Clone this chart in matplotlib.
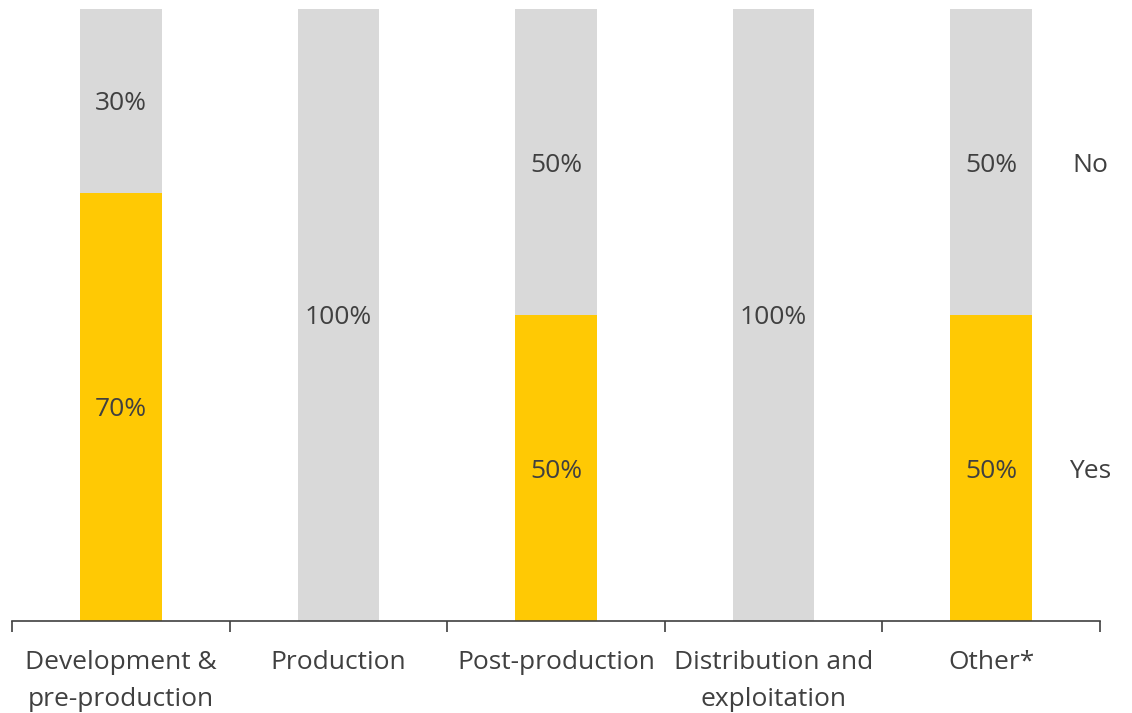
import matplotlib.pyplot as plt
import numpy as np

categories = ["Development &\npre-production", "Production", "Post-production",
              "Distribution and\nexploitation", "Other*"]
yes_pct = [70, 0, 50, 0, 50]
no_pct = [30, 100, 50, 100, 50]

YELLOW = "#FFC904"
GREY = "#D9D9D9"
TEXT = "#404040"
FS = 19

plt.rcParams["font.family"] = ["Open Sans", "DejaVu Sans"]

fig = plt.figure(figsize=(11.32, 7.13), dpi=100)
ax = fig.add_axes([12 / 1132, 1 - 621 / 713, 1088 / 1132, 612 / 713])

x = np.arange(len(categories))
w = 0.375
ax.bar(x, yes_pct, w, color=YELLOW)
ax.bar(x, no_pct, w, bottom=yes_pct, color=GREY)

lbl = dict(ha="center", va="center_baseline", fontsize=FS, color=TEXT)
for xi, y, n in zip(x, yes_pct, no_pct):
    if y > 0:
        ax.text(xi, y / 2, f"{y}%", **lbl)
    if n > 0:
        ax.text(xi, y + n / 2, f"{n}%", **lbl)

# series names next to the last bar
ax.text(x[-1] + 0.455, yes_pct[-1] / 2, "Yes", **lbl)
ax.text(x[-1] + 0.455, yes_pct[-1] + no_pct[-1] / 2, "No", **lbl)

ax.set_xlim(-0.5, len(categories) - 0.5)
ax.set_ylim(0, 100)
for s in ["top", "right", "left"]:
    ax.spines[s].set_visible(False)
ax.spines["bottom"].set_color("#404040")
ax.spines["bottom"].set_linewidth(1.2)
ax.set_yticks([])

ax.set_xticks(x)
ax.set_xticklabels(categories, fontsize=FS, color=TEXT, linespacing=1.62)
ax.tick_params(axis="x", which="major", length=0, pad=21)
ax.set_xticks(np.arange(len(categories) + 1) - 0.5, minor=True)
ax.tick_params(axis="x", which="minor", length=8, width=1.2, color="#404040")

fig.savefig("out.png", dpi=100)
